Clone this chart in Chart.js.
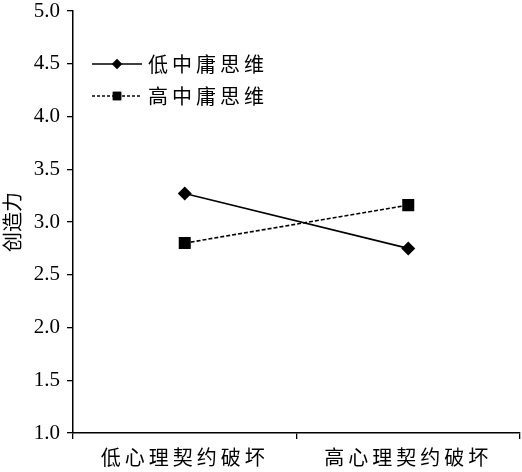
<!DOCTYPE html>
<html>
<head>
<meta charset="utf-8">
<script src="https://cdn.jsdelivr.net/npm/chart.js@4/dist/chart.umd.min.js"></script>
<style>
html,body{margin:0;padding:0;background:#fff;}
#wrap{width:522px;height:472px;}
</style>
</head>
<body>
<div id="wrap"><canvas id="c" width="522" height="472"></canvas></div>
<script>
const categories = ['低心理契约破坏', '高心理契约破坏'];
const seriesNames = ['低中庸思维', '高中庸思维'];
const lowZhongyong = [3.27, 2.75];
const highZhongyong = [2.80, 3.16];
const yTicks = [1.0, 1.5, 2.0, 2.5, 3.0, 3.5, 4.0, 4.5, 5.0];
const yTitle = '创造力';

const CJK = '"Noto Sans CJK SC", "Noto Sans CJK JP", sans-serif';
const SERIF = '"Liberation Serif", "DejaVu Serif", serif';

const legendPlugin = {
  id: 'customLegend',
  afterDraw(chart) {
    const ctx = chart.ctx;
    const rows = [64, 96];
    chart.data.datasets.forEach((ds, i) => {
      const y = rows[i];
      ctx.save();
      ctx.strokeStyle = '#000';
      ctx.lineWidth = 1.3;
      ctx.setLineDash(i === 0 ? [] : [3, 2]);
      ctx.beginPath();
      ctx.moveTo(92, y); ctx.lineTo(142, y);
      ctx.stroke();
      ctx.setLineDash([]);
      Chart.helpers.drawPoint(ctx, {
        pointStyle: ds.pointStyle,
        radius: i === 0 ? 5 : 6,
        borderWidth: 0
      }, 117, y);
      ctx.fillStyle = '#000';
      ctx.fill();
      ctx.font = '20px ' + CJK;
      if ('letterSpacing' in ctx) ctx.letterSpacing = '4px';
      ctx.textBaseline = 'middle';
      ctx.textAlign = 'left';
      ctx.fillText(ds.label, 148, y);
      ctx.restore();
    });
  }
};

const spacingPlugin = {
  id: 'xSpacing',
  afterLayout(chart) {
    const sx = chart.scales.x;
    if (sx._patched) return;
    const orig = sx.drawLabels.bind(sx);
    sx.drawLabels = function(area) {
      const ctx = chart.ctx;
      ctx.save();
      if ('letterSpacing' in ctx) ctx.letterSpacing = '4px';
      orig(area);
      ctx.restore();
    };
    sx._patched = true;
  }
};

new Chart(document.getElementById('c'), {
  type: 'line',
  data: {
    labels: categories,
    datasets: [
      {
        label: seriesNames[0],
        data: lowZhongyong,
        borderColor: '#000',
        backgroundColor: '#000',
        borderWidth: 1.6,
        pointStyle: 'rectRot',
        pointRadius: 7,
        pointBorderWidth: 0,
        pointBackgroundColor: '#000',
        tension: 0
      },
      {
        label: seriesNames[1],
        data: highZhongyong,
        borderColor: '#000',
        backgroundColor: '#000',
        borderWidth: 1.6,
        borderDash: [4, 2],
        pointStyle: 'rect',
        pointRadius: 8.5,
        pointBorderWidth: 0,
        pointBackgroundColor: '#000',
        tension: 0
      }
    ]
  },
  options: {
    responsive: false,
    animation: false,
    devicePixelRatio: 1,
    layout: { autoPadding: false, padding: { top: 11, right: 2, left: 0, bottom: 0 } },
    plugins: {
      legend: { display: false },
      tooltip: { enabled: false }
    },
    scales: {
      x: {
        type: 'category',
        offset: true,
        grid: { offset: true, drawOnChartArea: false, drawTicks: true, tickLength: 6, color: '#000', lineWidth: 1.3 },
        border: { display: true, color: '#000', width: 1.5 },
        ticks: { color: '#000', font: { family: CJK, size: 20 }, padding: 6, maxRotation: 0, autoSkip: false },
        afterFit(s) { s.height = 39; s.paddingLeft = 0; s.paddingRight = 0; }
      },
      y: {
        min: 1, max: 5,
        afterBuildTicks(s) { s.ticks = yTicks.map(v => ({ value: v })); },
        grid: { drawOnChartArea: false, drawTicks: true, tickLength: 6, color: '#000', lineWidth: 1.3 },
        border: { display: true, color: '#000', width: 1.5 },
        ticks: { color: '#000', font: { family: SERIF, size: 21 }, padding: 7, callback: v => Number(v).toFixed(1) },
        title: { display: true, text: yTitle, color: '#000', font: { family: CJK, size: 20 }, padding: { top: 0, bottom: 4 } },
        afterFit(s) { s.width = 73; s.paddingTop = 0; s.paddingBottom = 0; }
      }
    }
  },
  plugins: [legendPlugin, spacingPlugin]
});
</script>
</body>
</html>
